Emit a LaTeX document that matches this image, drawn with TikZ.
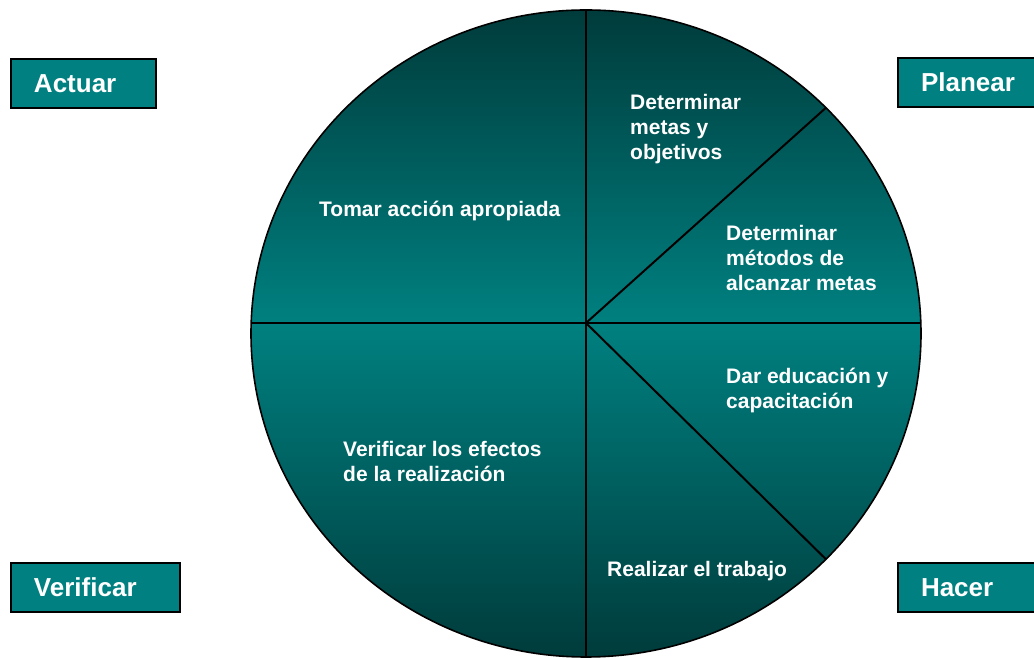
\documentclass[tikz,border=0pt]{standalone}
\usepackage{fontspec}
\setmainfont{Liberation Sans}
\definecolor{tealmid}{HTML}{008080}
\definecolor{tealdark}{HTML}{003B3B}
\begin{document}
\begin{tikzpicture}[x=1pt,y=1pt,
  divider/.style={line width=2pt, draw=black},
  rim/.style={line width=1.6pt, draw=black},
  stagebox/.style={draw=black, line width=2pt, fill=tealmid, text=white,
    font=\fontsize{26}{30}\selectfont\bfseries, anchor=north west,
    align=left, inner xsep=23pt, inner ysep=0pt, minimum height=49pt},
  sectortext/.style={text=white, font=\fontsize{21}{25}\selectfont\bfseries,
    align=left, anchor=west, inner sep=0pt}]
\useasboundingbox (0,0) rectangle (1034,658);

% pie body: two vertical gradients, dark at the rim, teal at the middle
\begin{scope}
  \clip (586,324.5) ellipse [x radius=335, y radius=323.5];
  \shade[top color=tealdark, bottom color=tealmid] (250,335) rectangle (923,649);
  \shade[top color=tealmid, bottom color=tealdark] (250,0) rectangle (923,335);
\end{scope}
\draw[rim] (586,324.5) ellipse [x radius=335, y radius=323.5];

% sector boundaries
\coordinate (hub) at (586,335);
\coordinate (west) at (251,335);
\coordinate (east) at (921,335);
\coordinate (north) at (586,648);
\coordinate (south) at (586,1);
\coordinate (upright) at (826,550.3);
\coordinate (lowright) at (826,98.7);
\draw[divider] (west) -- (east);
\draw[divider] (north) -- (south);
\draw[divider] (hub) -- (upright);
\draw[divider] (hub) -- (lowright);

% sector texts
\node[sectortext] (tomar) at (319,447) {Tomar acción apropiada};
\node[sectortext] (metas) at (630,529) {Determinar\\metas y\\objetivos};
\node[sectortext] (metodos) at (726,400) {Determinar\\métodos de\\alcanzar metas};
\node[sectortext] (educacion) at (726,267.5) {Dar educación y\\capacitación};
\node[sectortext] (efectos) at (343,196.5) {Verificar los efectos\\de la realización};
\node[sectortext] (trabajo) at (607,87) {Realizar el trabajo};

% cycle stage labels (the right-hand ones run past the edge)
\node[stagebox, text width=99pt] (actuar) at (10,600) {Actuar};
\node[stagebox, text width=115pt] (planear) at (897,601) {Planear};
\node[stagebox, text width=123pt] (verificar) at (10,96) {Verificar};
\node[stagebox, text width=115pt] (hacer) at (897,96) {Hacer};
\end{tikzpicture}
\end{document}
